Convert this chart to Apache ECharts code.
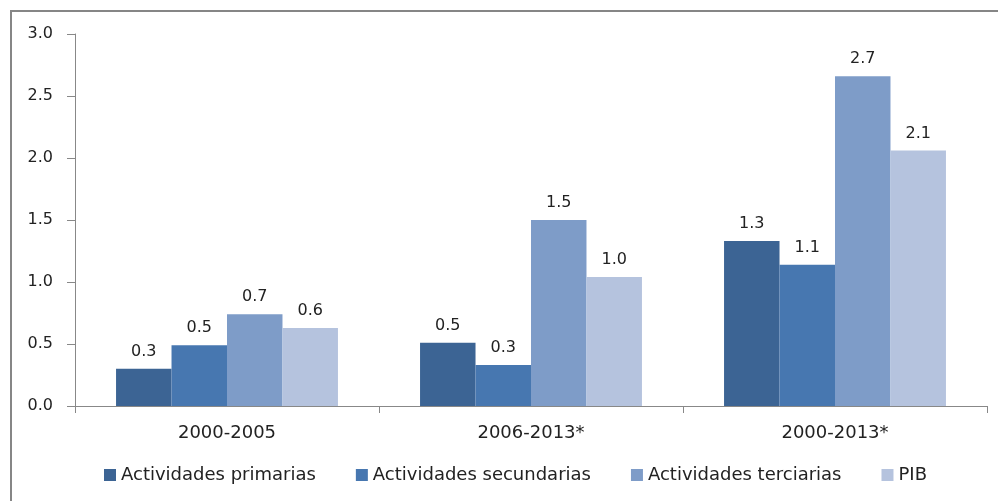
<!DOCTYPE html>
<html>
<head>
    <meta charset="utf-8">
    <title>ECharts</title>
    <script src="https://cdn.jsdelivr.net/npm/echarts@6/dist/echarts.min.js"></script>
    <style>
      html, body { padding: 0; margin: 0; background: #fff; overflow: hidden; }
      #main { width: 998px; height: 501px; }
      #frame {
        position: absolute; left: 10px; top: 10px; width: 1200px; height: 800px;
        border-top: 2px solid #868686; border-left: 2px solid #868686;
        pointer-events: none;
      }
    </style>
</head>
<body>
  <div id="main"></div>
  <div id="frame"></div>
  <script type="text/javascript">
    // data
    var periods = ['2000-2005', '2006-2013*', '2000-2013*']
    var seriesNames = ['Actividades primarias', 'Actividades secundarias', 'Actividades terciarias', 'PIB']
    var primarias = [0.30, 0.51, 1.33]
    var secundarias = [0.49, 0.33, 1.14]
    var terciarias = [0.74, 1.50, 2.66]
    var pib = [0.63, 1.04, 2.06]
    var colors = ['#3C6494', '#4777B0', '#7E9CC8', '#B5C3DE']

    var font = 'DejaVu Sans'
    var myChart = echarts.init(document.getElementById('main'))

    var mkSeries = function (name, values, i) {
      return {
        name: name,
        type: 'bar',
        data: values,
        barGap: '0%',
        barCategoryGap: '27%',
        itemStyle: { color: colors[i] },
        label: {
          show: true,
          position: 'top',
          distance: 9,
          fontFamily: font,
          fontSize: 16,
          color: '#222',
          formatter: function (p) { return p.value.toFixed(1) }
        }
      }
    }

    var option = {
      animation: false,
      backgroundColor: '#fff',
      grid: { left: 75, right: 11, top: 34, bottom: 95 },
      legend: {
        bottom: 12,
        left: 99,
        itemWidth: 12,
        itemHeight: 12,
        itemGap: 40,
        icon: 'rect',
        textStyle: { fontFamily: font, fontSize: 18, color: '#222' },
        data: seriesNames
      },
      xAxis: {
        type: 'category',
        data: periods,
        axisLine: { lineStyle: { color: '#888' } },
        axisTick: { show: true, length: 7, lineStyle: { color: '#888' } },
        axisLabel: { fontFamily: font, fontSize: 18, color: '#222', margin: 18 }
      },
      yAxis: {
        type: 'value',
        min: 0,
        max: 3,
        interval: 0.5,
        axisLine: { show: true, lineStyle: { color: '#888' } },
        axisTick: { show: true, length: 8, lineStyle: { color: '#888' } },
        splitLine: { show: false },
        axisLabel: {
          fontFamily: font, fontSize: 16, color: '#222', margin: 22,
          formatter: function (v) { return v.toFixed(1) }
        }
      },
      series: [
        mkSeries(seriesNames[0], primarias, 0),
        mkSeries(seriesNames[1], secundarias, 1),
        mkSeries(seriesNames[2], terciarias, 2),
        mkSeries(seriesNames[3], pib, 3)
      ]
    }
    myChart.setOption(option)
  </script>
</body>
</html>
